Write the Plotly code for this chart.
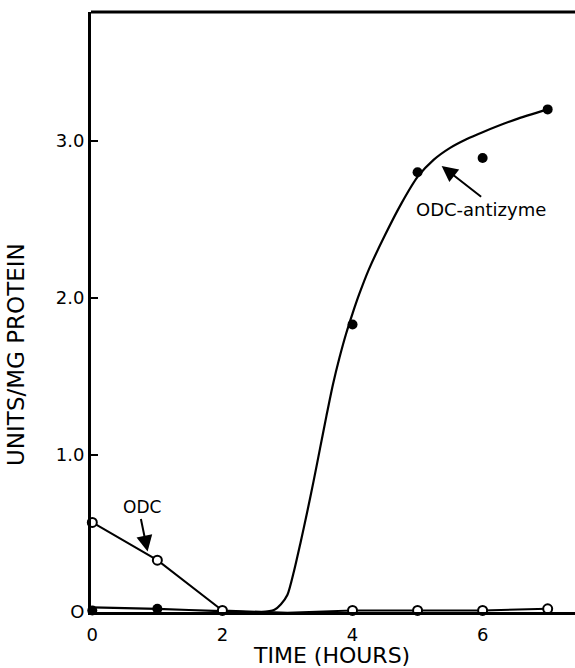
import plotly.graph_objects as go

# Time points (hours)
hours = [0, 1, 2, 3, 4, 5, 6, 7]
# ODC activity (open circles)
odc = [0.57, 0.33, 0.01, -0.005, 0.01, 0.01, 0.01, 0.02]
# ODC-antizyme (filled circles)
az_hours = [0, 1, 4, 5, 6, 7]
antizyme = [0.01, 0.02, 1.83, 2.80, 2.89, 3.20]
# Hand-drawn fitted curve through ODC-antizyme
curve_x = [0, 1, 2, 2.6, 2.8, 2.9, 3.0, 3.1, 3.2, 3.3, 3.4, 3.5, 3.6, 3.7, 3.8,
           3.9, 4.0, 4.1, 4.25, 4.5, 4.75, 5.0, 5.25, 5.5, 5.75, 6.0, 6.5, 7.0]
curve_y = [0.03, 0.02, 0.005, 0.0, 0.015, 0.05, 0.11, 0.26, 0.44, 0.63, 0.83, 1.04,
           1.25, 1.45, 1.62, 1.77, 1.90, 2.02, 2.18, 2.40, 2.60, 2.77, 2.88, 2.955,
           3.01, 3.055, 3.135, 3.20]

x_ticks = [0, 2, 4, 6]
y_ticks = [0, 1, 2, 3]
y_ticktext = ["O", "1.0", "2.0", "3.0"]

FONT = "DejaVu Sans"

fig = go.Figure()

fig.add_trace(go.Scatter(
    x=curve_x, y=curve_y, mode="lines",
    line=dict(color="black", width=2.2, shape="spline", smoothing=0.7),
    cliponaxis=False, showlegend=False, hoverinfo="skip"))

fig.add_trace(go.Scatter(
    x=hours, y=odc, mode="lines+markers",
    line=dict(color="black", width=2),
    marker=dict(symbol="circle", size=9, color="white",
                line=dict(color="black", width=2)),
    cliponaxis=False, showlegend=False))

fig.add_trace(go.Scatter(
    x=az_hours, y=antizyme, mode="markers",
    marker=dict(symbol="circle", size=10, color="black"),
    cliponaxis=False, showlegend=False))

# Annotations
fig.add_annotation(x=5.37, y=2.84, xref="x", yref="y", text="",
                   showarrow=True, arrowhead=2, arrowsize=1.6, arrowwidth=2,
                   arrowcolor="black", ax=41, ay=32)
fig.add_annotation(x=5.97, y=2.56, xref="x", yref="y", text="ODC-antizyme",
                   showarrow=False, font=dict(family=FONT, size=18, color="black"))
fig.add_annotation(x=0.85, y=0.385, xref="x", yref="y", text="",
                   showarrow=True, arrowhead=2, arrowsize=1.6, arrowwidth=2,
                   arrowcolor="black", ax=-7, ay=-34)
fig.add_annotation(x=0.76, y=0.67, xref="x", yref="y", text="ODC",
                   showarrow=False, font=dict(family=FONT, size=17, color="black"))

# Axis titles (placed as in the original figure)
fig.add_annotation(xref="paper", yref="paper", x=-0.155, xanchor="center",
                   y=(612 - 354) / 600, yanchor="middle", textangle=-90,
                   text="UNITS/MG PROTEIN", showarrow=False,
                   font=dict(family=FONT, size=23, color="black"))
fig.add_annotation(xref="paper", yref="paper", x=(331 - 91) / 484, xanchor="center",
                   y=-(655 - 612) / 600, yanchor="middle",
                   text="TIME (HOURS)", showarrow=False,
                   font=dict(family=FONT, size=22, color="black"))

fig.update_layout(
    width=575, height=668,
    margin=dict(l=91, r=0, t=12, b=56),
    paper_bgcolor="white", plot_bgcolor="white",
    font=dict(family=FONT, color="black"),
    xaxis=dict(range=[-0.02, 7.42], tickvals=x_ticks, ticks="",
               showline=True, linecolor="black", linewidth=3, mirror=False,
               showgrid=False, zeroline=False, ticklabelstandoff=4,
               tickfont=dict(family=FONT, size=18)),
    yaxis=dict(range=[0, 3.82], tickvals=y_ticks, ticktext=y_ticktext,
               ticks="inside", ticklen=7, tickwidth=2, tickcolor="black",
               showline=True, linecolor="black", linewidth=3,
               showgrid=False, zeroline=False,
               tickfont=dict(family=FONT, size=18)),
)

# top frame line
fig.add_shape(type="line", xref="paper", yref="paper", x0=0, x1=1, y0=1, y1=1,
              line=dict(color="black", width=3))

fig.write_html("out.html")
